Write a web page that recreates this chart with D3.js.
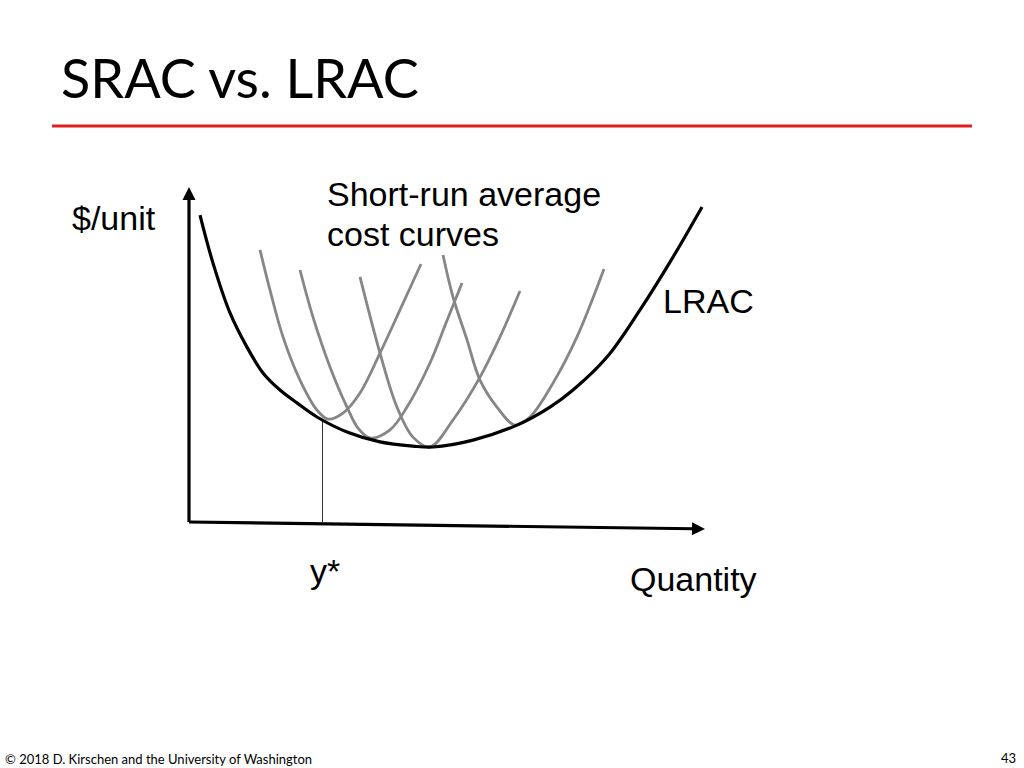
<!DOCTYPE html>
<html>
<head>
<meta charset="utf-8">
<script src="https://cdn.jsdelivr.net/npm/d3@7"></script>
<style>
  html, body { margin: 0; padding: 0; background: #fff; }
</style>
</head>
<body>
<div id="chart"></div>
<script>
(function() {

    var width = 1024;
    var height = 768;

    // long-run average cost curve, [quantity, $/unit]
    var lrac = [[2.2, 102.3], [4.8, 86.3], [8.2, 69.7], [11.6, 58.3], [14.8, 49.7], [18.2, 44],
        [21.6, 39.7], [25.6, 35], [31.6, 30], [38.2, 26.7], [44.8, 25.3], [48.8, 25], [56.8, 27.3],
        [65.6, 32.3], [72.2, 38.3], [76.8, 44], [83.6, 55], [90.2, 70.7], [96.8, 88.3], [102.6, 105]];

    // short-run average cost curves
    var srac1 = [[14.2, 90.7], [16.2, 77.3], [18.8, 61.7], [22.2, 47.3], [25.6, 37.3], [27.8, 34.3],
        [30.8, 36.3], [34.2, 43], [38.2, 56.3], [42.2, 70.7], [46.4, 86]];
    var srac2 = [[22.2, 84], [24.8, 68.3], [28.2, 51.7], [31.6, 38.3], [33.8, 31.3], [36.2, 28],
        [40.2, 30.7], [43.6, 38.3], [48.2, 53], [51.4, 66.3], [54.6, 79.7]];
    var srac3 = [[34.2, 81.7], [38.2, 56.3], [41.6, 38.3], [44.8, 28.3], [48.2, 25], [52.8, 34],
        [58.2, 48.3], [62.2, 61.7], [66.2, 77]];
    var srac4 = [[50.8, 89], [52.8, 75], [55.6, 60.7], [58.2, 47.3], [61.6, 38.3], [65.2, 32.3],
        [68.2, 35], [72.8, 46.3], [77.6, 61.7], [83, 84.3]];

    var yStar = [26.6, 34];          // quantity y* and its cost on LRAC
    var yAxisEnd = [0, 111.7];
    var xAxisEnd = [103.2, -2.3];

    var x = d3.scaleLinear().domain([0, 110]).range([189, 739]);
    var y = d3.scaleLinear().domain([0, 110]).range([522, 192]);

    var svg = d3.select("#chart")
        .append("svg")
        .attr("width", width)
        .attr("height", height);

    var defs = svg.append("defs");
    defs.append("filter").attr("id", "blur")
        .append("feGaussianBlur").attr("stdDeviation", 1.2);

    // title + rule
    svg.append("text")
        .attr("x", 61).attr("y", 98)
        .style("font-family", "Lato, 'Open Sans', sans-serif")
        .style("font-size", "54px")
        .attr("fill", "#000")
        .text("SRAC vs. LRAC");

    svg.append("line")
        .attr("x1", 54).attr("x2", 972).attr("y1", 129.5).attr("y2", 129.5)
        .attr("stroke", "#999").attr("stroke-width", 3).attr("opacity", 0.6)
        .attr("filter", "url(#blur)");
    svg.append("line")
        .attr("x1", 52).attr("x2", 972).attr("y1", 126).attr("y2", 126)
        .attr("stroke", "#e0201e").attr("stroke-width", 3);

    // axes with arrow heads
    function arrow(from, to) {
        var x0 = x(from[0]), y0 = y(from[1]), x1 = x(to[0]), y1 = y(to[1]);
        var dx = x1 - x0, dy = y1 - y0, len = Math.sqrt(dx * dx + dy * dy);
        var ux = dx / len, uy = dy / len, head = 13, half = 6.5;
        var bx = x1 - ux * head, by = y1 - uy * head;
        svg.append("line")
            .attr("x1", x0).attr("y1", y0).attr("x2", bx + ux).attr("y2", by + uy)
            .attr("stroke", "#000").attr("stroke-width", 3.2);
        svg.append("path")
            .attr("d", "M" + x1 + "," + y1 +
                "L" + (bx - uy * half) + "," + (by + ux * half) +
                "L" + (bx + uy * half) + "," + (by - ux * half) + "Z")
            .attr("fill", "#000");
    }
    arrow([0, 0], yAxisEnd);
    arrow([0, 0], xAxisEnd);

    // y* drop line
    svg.append("line")
        .attr("x1", x(yStar[0]) + 0.5).attr("x2", x(yStar[0]) + 0.5)
        .attr("y1", y(0)).attr("y2", y(yStar[1]))
        .attr("stroke", "#333").attr("stroke-width", 1)
        .attr("shape-rendering", "crispEdges");

    var line = d3.line()
        .x(function (d) { return x(d[0]); })
        .y(function (d) { return y(d[1]); })
        .curve(d3.curveCatmullRom.alpha(0.5));

    svg.selectAll(".srac")
        .data([srac1, srac2, srac3, srac4])
        .enter().append("path")
        .attr("class", "srac")
        .attr("d", line)
        .attr("fill", "none")
        .attr("stroke", "#868686")
        .attr("stroke-width", 2.8);

    svg.append("path")
        .attr("d", line(lrac))
        .attr("fill", "none")
        .attr("stroke", "#000")
        .attr("stroke-width", 3.2);

    // labels
    var labels = [
        { t: "$/unit", x: 72, y: 230 },
        { t: "Short-run average", x: 327, y: 206 },
        { t: "cost curves", x: 327, y: 246 },
        { t: "LRAC", x: 663, y: 313 },
        { t: "y*", x: 310, y: 583 },
        { t: "Quantity", x: 630, y: 591 }
    ];
    svg.selectAll(".lbl")
        .data(labels)
        .enter().append("text")
        .attr("class", "lbl")
        .attr("x", function (d) { return d.x; })
        .attr("y", function (d) { return d.y; })
        .style("font-family", "'Liberation Sans', Arial, sans-serif")
        .style("font-size", "34px")
        .attr("fill", "#000")
        .text(function (d) { return d.t; });

    // footer
    svg.append("text")
        .attr("x", 5).attr("y", 764)
        .style("font-family", "Lato, sans-serif")
        .style("font-size", "13px")
        .text("\u00a9 2018 D. Kirschen and the University of Washington");
    svg.append("text")
        .attr("x", 1016).attr("y", 763)
        .attr("text-anchor", "end")
        .style("font-family", "Lato, sans-serif")
        .style("font-size", "13px")
        .text("43");
})();
</script>
</body>
</html>
